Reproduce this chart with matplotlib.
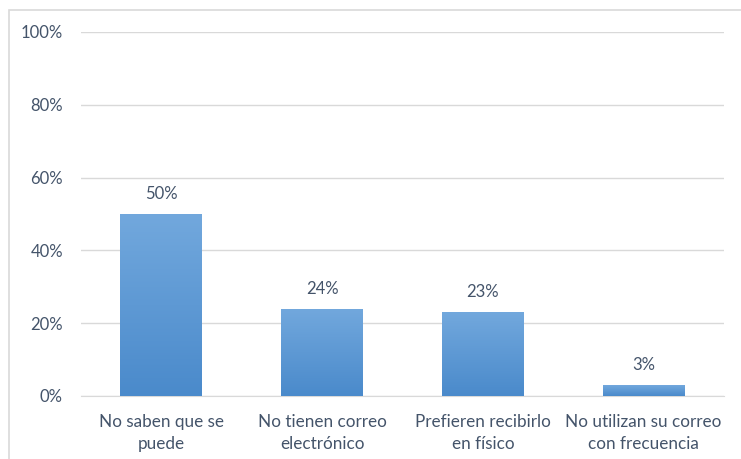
import matplotlib.pyplot as plt
import matplotlib.patches as mpatches
import numpy as np

categories = ["No saben que se\npuede", "No tienen correo\nelectrónico",
              "Prefieren recibirlo\nen físico", "No utilizan su correo\ncon frecuencia"]
values = [50, 24, 23, 3]
labels = ["50%", "24%", "23%", "3%"]
ticks = [0, 20, 40, 60, 80, 100]

plt.rcParams['font.family'] = ['Lato', 'DejaVu Sans']
txt = '#44546a'

fig = plt.figure(figsize=(7.41, 4.59), dpi=100)
# outer chart frame
fig.patches.append(mpatches.Rectangle((9/741, -0.05), 1.0, 1 - 10/459 + 0.05,
                                      transform=fig.transFigure, fill=False,
                                      edgecolor='#d9d9d9', linewidth=1.2))
ax = fig.add_axes([81/741, 1 - 396/459, (724 - 81)/741, (396 - 32)/459])

x = np.arange(len(categories))
bars = ax.bar(x, values, width=0.51, color='#5b9bd5', zorder=2)

# vertical gradient on each bar
grad = np.linspace(0, 1, 256).reshape(-1, 1)
cmap = plt.matplotlib.colors.LinearSegmentedColormap.from_list('g', ['#4a8acb', '#72a8dd'])
for b in bars:
    im = ax.imshow(grad, cmap=cmap, aspect='auto', origin='lower',
                   extent=[b.get_x(), b.get_x() + b.get_width(), 0, b.get_height()], zorder=3)
    im.set_clip_path(b)

for xi, v, lab in zip(x, values, labels):
    ax.text(xi, v + 3.3, lab, ha='center', va='bottom', fontsize=12, color=txt)

ax.set_xlim(-0.5, len(categories) - 0.5)
ax.set_ylim(0, 100)
ax.set_yticks(ticks)
ax.set_yticklabels([f"{t}%" for t in ticks])
ax.set_xticks(x)
ax.set_xticklabels(categories, fontsize=12.3, color=txt, linespacing=1.45)
ax.tick_params(axis='y', labelsize=12, labelcolor=txt, length=0, pad=13)
ax.tick_params(axis='x', length=0, pad=13)
ax.grid(axis='y', color='#d9d9d9', linewidth=1, zorder=0)
ax.set_axisbelow(True)
for s in ['top', 'right', 'left']:
    ax.spines[s].set_visible(False)
ax.spines['bottom'].set_color('#d9d9d9')

fig.savefig('out.png', dpi=100)
